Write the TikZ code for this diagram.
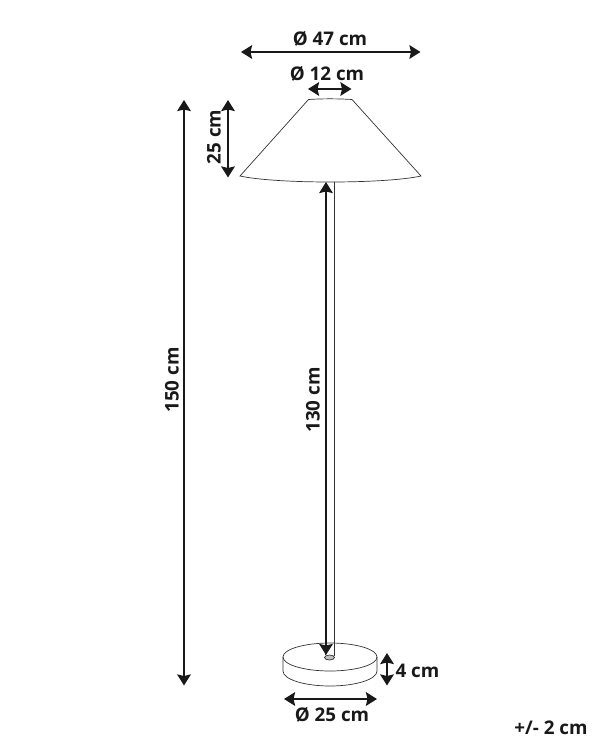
\documentclass[tikz,border=0pt]{standalone}
\usepackage{fontspec}
\setmainfont{Open Sans}
\usepackage{xcolor}
\usetikzlibrary{positioning, calc, arrows.meta}

\tikzset{
    dimline/.style={black!90, line width=2.2pt, {Stealth[length=11pt,width=13.5pt,inset=1.5pt]}-{Stealth[length=11pt,width=13.5pt,inset=1.5pt]}},
    dimtext/.style={inner sep=0pt, font=\bfseries\fontsize{18.8}{20}\selectfont, text=black!90},
    outline/.style={black!80, line width=0.7pt},
}

\begin{document}
\begin{tikzpicture}[x=1pt,y=-1pt]
    \useasboundingbox (0,0) rectangle (600,750);
    % lamp
    \coordinate (shadetl) at (308.5,99.5);
    \coordinate (shadetr) at (352,99.5);
    \coordinate (shadebl) at (240,176);
    \coordinate (shadebr) at (421,176);
    \draw[outline] (shadetl) .. controls (322,98.6) and (338,98.6) .. (shadetr) -- (shadebr)
        .. controls (385,184) and (276,184) .. (shadebl) -- cycle;
    \draw[outline] (334,181.5) -- (334,650);
    \draw[outline, fill=white] (330,657) ellipse [x radius=47, y radius=14];
    \draw[outline] (283,657) -- (283,671) arc [start angle=180, end angle=0, x radius=47, y radius=15] -- (377,657);
    \draw[outline] (325,642.5) -- (325,655);
    \draw[outline] (334,642.5) -- (334,656);
    \draw[outline, fill=gray!50] (329.5,657.5) ellipse [x radius=5, y radius=2.5];
    % dimensions
    \coordinate (topl) at (241,52);
    \coordinate (topr) at (420.5,52);
    \coordinate (neckl) at (308,89);
    \coordinate (neckr) at (351.5,89);
    \coordinate (fullt) at (184,100);
    \coordinate (fullb) at (184,685.5);
    \coordinate (shadet) at (228,100);
    \coordinate (shadeb) at (228,177.5);
    \coordinate (polet) at (326,182);
    \coordinate (poleb) at (326,655);
    \coordinate (baset) at (387,653);
    \coordinate (baseb) at (387,685.5);
    \coordinate (basel) at (284,699);
    \coordinate (baser) at (377,699);
    \draw[dimline] (topl) -- (topr);
    \draw[dimline] (neckl) -- (neckr);
    \draw[dimline] (fullt) -- (fullb);
    \draw[dimline] (shadet) -- (shadeb);
    \draw[dimline] (polet) -- (poleb);
    \draw[dimline] (baset) -- (baseb);
    \draw[dimline] (basel) -- (baser);
    \node[dimtext] (dtop) at (330,39) {Ø 47 cm};
    \node[dimtext] (dneck) at (327,73.5) {Ø 12 cm};
    \node[dimtext, rotate=90] (dshade) at (214,137) {25 cm};
    \node[dimtext, rotate=90] (dfull) at (172,380) {150 cm};
    \node[dimtext, rotate=90] (dpole) at (313,400) {130 cm};
    \node[dimtext] (dheight) at (417.5,671) {4 cm};
    \node[dimtext] (dbase) at (332,715) {Ø 25 cm};
    \node[dimtext] (dtol) at (551,728) {+/- 2 cm};
\end{tikzpicture}
\end{document}
